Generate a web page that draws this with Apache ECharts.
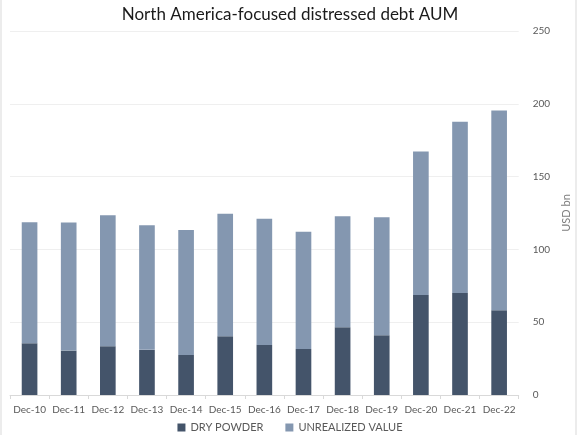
<!DOCTYPE html>
<html>
<head>
<meta charset="utf-8">
<script src="https://cdn.jsdelivr.net/npm/echarts@6/dist/echarts.min.js"></script>
<style>
html, body { margin: 0; padding: 0; background: #fff; }
#chart { width: 580px; height: 435px; }
</style>
</head>
<body>
<div id="chart"></div>
<script>
var categories = ['Dec-10', 'Dec-11', 'Dec-12', 'Dec-13', 'Dec-14', 'Dec-15', 'Dec-16',
    'Dec-17', 'Dec-18', 'Dec-19', 'Dec-20', 'Dec-21', 'Dec-22'];
var dryPowder = [35.5, 30.5, 33.5, 31, 27.5, 40.3, 34.4, 31.6, 46.5, 41, 68.7, 70, 58.2];
var unrealizedValue = [83.2, 87.9, 90, 85.6, 85.9, 84.1, 86.6, 80.6, 76.3, 81.1, 98.5, 117.6, 137.2];

var chart = echarts.init(document.getElementById('chart'));

chart.setOption({
    textStyle: { fontFamily: 'Lato' },
    title: {
        text: 'North America-focused distressed debt AUM',
        left: 'center',
        top: 1,
        textStyle: { fontSize: 17, fontWeight: 'normal', color: '#1a1a1a', fontFamily: 'Lato' }
    },
    legend: {
        bottom: -3,
        left: 'center',
        itemWidth: 8,
        itemHeight: 8,
        itemGap: 22,
        icon: 'rect',
        textStyle: { fontSize: 11, color: '#595959' },
        data: ['DRY POWDER', 'UNREALIZED VALUE']
    },
    grid: { left: 10, right: 55, top: 31, bottom: 40 },
    xAxis: {
        type: 'category',
        data: categories,
        axisLine: { lineStyle: { color: '#d9d9d9' } },
        axisTick: { show: true, length: 4, lineStyle: { color: '#d9d9d9' } },
        axisLabel: { interval: 0, fontSize: 10, color: '#595959', margin: 10 }
    },
    yAxis: {
        type: 'value',
        position: 'right',
        min: 0,
        max: 250,
        interval: 50,
        name: 'USD bn',
        nameLocation: 'middle',
        nameGap: 33,
        nameRotate: 90,
        nameTextStyle: { fontSize: 11, color: '#7f7f7f' },
        axisLine: { show: false },
        axisTick: { show: false },
        axisLabel: { fontSize: 10, color: '#595959', margin: 14 },
        splitLine: { lineStyle: { color: '#efefef' } }
    },
    series: [
        {
            name: 'DRY POWDER',
            type: 'bar',
            stack: 'aum',
            barWidth: '40%',
            data: dryPowder,
            itemStyle: { color: '#44546a' }
        },
        {
            name: 'UNREALIZED VALUE',
            type: 'bar',
            stack: 'aum',
            data: unrealizedValue,
            itemStyle: { color: '#8497b0' }
        }
    ],
    graphic: [{
        type: 'rect',
        shape: { x: 1, y: -2, width: 575, height: 440 },
        style: { fill: 'none', stroke: '#e6e6e6', lineWidth: 1.5 },
        silent: true
    }]
});
</script>
</body>
</html>
